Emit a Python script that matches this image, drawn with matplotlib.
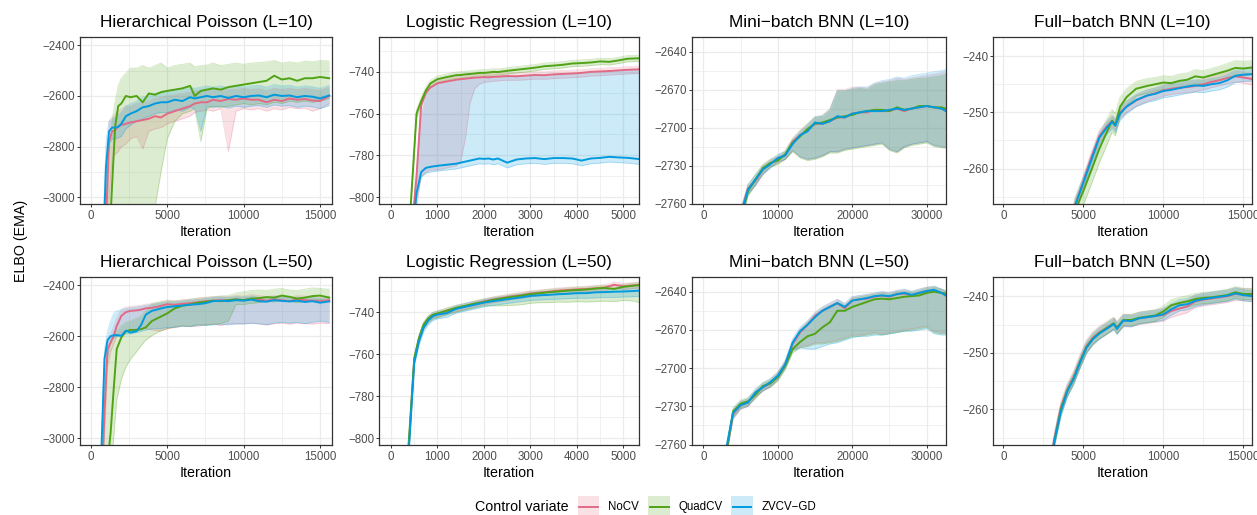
import matplotlib
matplotlib.use("Agg")
import matplotlib.pyplot as plt
from matplotlib.patches import Rectangle
from matplotlib.lines import Line2D
from matplotlib.ticker import MultipleLocator, FuncFormatter

plt.rcParams['font.family'] = ['Liberation Sans', 'DejaVu Sans']

# ---------------------------------------------------------------- data
methods = ["NoCV", "QuadCV", "ZVCV\u2212GD"]
colors = ["#E16A86", "#50A315", "#009ADE"]

# Hierarchical Poisson (L=10)
hp10_x = [700, 1000, 1200, 1400, 1600, 1800, 2000, 2300, 2600, 3000, 3400, 3800, 4200, 4600, 5000, 5500, 6000,
          6500, 6800, 7200, 7600, 8000, 8500, 9000, 9500, 10000, 10500, 11000, 11500, 12000, 12500, 13000,
          13500, 14000, 14500, 15000, 15600]
hp10_nocv = [-3500, -3100, -2780, -2740, -2735, -2720, -2715, -2710, -2705, -2700, -2695, -2690, -2680, -2685,
             -2670, -2660, -2650, -2640, -2630, -2625, -2625, -2615, -2620, -2612, -2615, -2610, -2615, -2615,
             -2625, -2615, -2620, -2610, -2615, -2612, -2618, -2620, -2600]
hp10_nocv_hi = [-3400, -2950, -2700, -2680, -2670, -2660, -2650, -2640, -2640, -2630, -2625, -2620, -2610, -2605,
                -2600, -2595, -2590, -2585, -2580, -2580, -2575, -2575, -2580, -2575, -2575, -2570, -2575, -2572,
                -2580, -2570, -2575, -2570, -2575, -2570, -2575, -2578, -2565]
hp10_nocv_lo = [-3600, -3400, -3000, -2850, -2830, -2820, -2800, -2790, -2770, -2760, -2810, -2740, -2730, -2725,
                -2710, -2700, -2690, -2680, -2665, -2660, -2655, -2660, -2650, -2820, -2660, -2650, -2655, -2650,
                -2660, -2650, -2655, -2645, -2650, -2648, -2660, -2650, -2630]
hp10_quad = [-3600, -3400, -3200, -2950, -2720, -2640, -2630, -2600, -2605, -2600, -2625, -2590, -2595, -2585,
             -2580, -2575, -2570, -2560, -2600, -2580, -2575, -2570, -2575, -2565, -2560, -2555, -2550, -2545,
             -2540, -2520, -2535, -2530, -2540, -2530, -2530, -2525, -2530]
hp10_quad_hi = [-3400, -3200, -2900, -2700, -2620, -2560, -2530, -2510, -2490, -2490, -2480, -2490, -2480, -2470,
                -2490, -2480, -2475, -2470, -2485, -2480, -2478, -2470, -2480, -2475, -2470, -2475, -2470, -2468,
                -2465, -2460, -2470, -2465, -2470, -2462, -2465, -2460, -2462]
hp10_quad_lo = [-3700, -3600, -3500, -3400, -3300, -3250, -3200, -3150, -3100, -3100, -3100, -3080, -3040, -2900,
                -2770, -2700, -2670, -2660, -2650, -2780, -2650, -2640, -2645, -2640, -2635, -2630, -2635, -2630,
                -2635, -2625, -2630, -2620, -2625, -2620, -2625, -2620, -2610]
hp10_zv = [-3400, -2880, -2740, -2725, -2725, -2722, -2710, -2680, -2670, -2660, -2645, -2640, -2630, -2625,
           -2625, -2615, -2620, -2605, -2610, -2605, -2600, -2605, -2600, -2608, -2600, -2605, -2600, -2598,
           -2605, -2595, -2600, -2598, -2605, -2600, -2603, -2610, -2598]
hp10_zv_hi = [-3300, -2780, -2700, -2690, -2685, -2675, -2665, -2640, -2630, -2620, -2605, -2600, -2590, -2585,
              -2580, -2575, -2575, -2565, -2570, -2565, -2560, -2565, -2560, -2568, -2560, -2565, -2560, -2558,
              -2565, -2555, -2560, -2558, -2565, -2560, -2563, -2570, -2558]
hp10_zv_lo = [-3500, -3050, -2790, -2770, -2770, -2765, -2760, -2730, -2715, -2700, -2690, -2680, -2670, -2665,
              -2665, -2655, -2660, -2645, -2650, -2740, -2640, -2645, -2640, -2648, -2640, -2645, -2640, -2638,
              -2645, -2635, -2640, -2638, -2645, -2640, -2643, -2650, -2638]

# Logistic Regression (L=10)
lr10_x = [350, 450, 550, 650, 750, 850, 1000, 1200, 1400, 1500, 1600, 1700, 1800, 1900, 2000, 2100, 2200, 2300,
          2500, 2700, 2900, 3100, 3300, 3500, 3700, 3900, 4100, 4300, 4500, 4700, 4900, 5100, 5345]
lr10_nocv = [-840, -815, -790, -756, -750, -747.5, -745.5, -744.6, -743.8, -743.5, -743.3, -743.0, -742.8, -742.7,
             -742.5, -742.6, -742.4, -742.3, -742.0, -742.1, -741.8, -741.5, -741.6, -741.2, -741.0, -740.8,
             -740.5, -740.0, -739.8, -739.6, -739.3, -739.0, -738.8]
lr10_nocv_hi = [-838.5, -813.5, -788, -754, -748.3, -746, -744, -743, -742.3, -742, -741.8, -741.5, -741.3, -741.2,
                -741, -741, -740.9, -740.8, -740.5, -740.5, -740.3, -740, -740, -739.6, -739.4, -739.2, -738.9,
                -738.5, -738.3, -738, -737.8, -737.5, -737.3]
lr10_nocv_lo = [-845, -830, -805, -790, -788, -787, -787, -786, -785, -783, -772, -755, -748, -746, -745, -744.8,
                -744.5, -744.3, -744, -744, -743.8, -743.5, -743.5, -743.2, -743, -742.8, -742.5, -742, -741.8,
                -741.5, -741.3, -741, -740.8]
lr10_quad = [-830, -795, -760, -754, -749, -745.5, -743.5, -742.5, -741.6, -741.5, -741.2, -741.0, -740.8, -740.5,
             -740.5, -740.3, -740.0, -740.1, -739.5, -739.0, -738.5, -738.0, -737.3, -737.0, -736.6, -736.0,
             -735.8, -735.5, -735.0, -735.2, -734.5, -733.7, -733.5]
lr10_quad_hi = [-828.5, -793.5, -758, -752, -747.3, -744, -742, -741, -740.1, -740, -739.7, -739.5, -739.3, -739,
                -739, -738.8, -738.5, -738.6, -738, -737.5, -737, -736.5, -735.8, -735.5, -735.1, -734.5, -734.3,
                -734, -733.5, -733.7, -733, -732.2, -732]
lr10_quad_lo = [-831.5, -796.5, -762, -756, -750.7, -747, -745, -744, -743.1, -743, -742.7, -742.5, -742.3, -742,
                -742, -741.8, -741.5, -741.6, -741, -740.5, -740, -739.5, -738.8, -738.5, -738.1, -737.5, -737.3,
                -737, -736.5, -736.7, -736, -735.2, -735]
lr10_zv = [-840, -820, -798, -788, -786, -785.5, -785, -784.5, -784, -783.5, -783, -782.5, -782, -781.5, -781.7,
           -781.5, -782, -781.5, -783.5, -782, -781.5, -781.3, -781.8, -781.3, -781.3, -781.5, -782.5, -781.5,
           -781.2, -780.7, -781, -781.2, -781.8]
lr10_zv_hi = [-835, -815, -793, -762, -752, -748, -746, -745, -744.4, -744.1, -743.9, -743.7, -743.5, -743.4,
              -743.3, -743.1, -743, -742.9, -742.6, -742.6, -742.4, -742.1, -742.1, -741.8, -741.6, -741.3, -741,
              -740.6, -740.3, -740.1, -739.8, -739.4, -739.1]
lr10_zv_lo = [-842.5, -822.5, -800.5, -790.5, -788.5, -788, -787.5, -787, -786.5, -786, -785.5, -785, -784.5, -784,
              -784.2, -784, -784.5, -784, -786, -784.5, -784, -783.8, -784.3, -783.8, -783.8, -784, -785, -784,
              -783.7, -783.2, -783.5, -783.7, -784.3]

# Mini-batch BNN (L=10)
mb10_x = [4000, 5000, 6000, 7000, 8000, 9000, 10000, 11000, 12000, 13000, 14000, 15000, 16000, 17000, 18000,
          19000, 20000, 21000, 22000, 23000, 24000, 25000, 26000, 27000, 28000, 29000, 30000, 31000, 32000, 32560]
mb10_nocv = [-2790, -2768, -2748, -2742, -2733, -2728, -2725, -2722, -2711, -2706, -2702, -2697, -2697, -2695,
             -2692, -2692, -2689, -2688, -2688, -2686, -2687, -2687, -2685, -2687, -2685, -2684, -2683, -2684,
             -2685, -2686]
mb10_nocv_hi = [-2786, -2764, -2745, -2738, -2730, -2725, -2722, -2719, -2708, -2702, -2697, -2692, -2690, -2685,
                -2670, -2670, -2668, -2668, -2669, -2665, -2664, -2663, -2661, -2662, -2661, -2660, -2659, -2658,
                -2657, -2656]
mb10_nocv_lo = [-2795, -2773, -2752, -2746, -2737, -2731, -2728, -2725, -2718, -2723, -2725, -2724, -2722, -2719,
                -2719, -2717, -2716, -2715, -2714, -2713, -2712, -2717, -2719, -2715, -2713, -2712, -2711, -2714,
                -2715, -2715]
mb10_quad = [-2795, -2772, -2750, -2741, -2732, -2728, -2726, -2721, -2712, -2707, -2701, -2697, -2696, -2694,
             -2692, -2691, -2690, -2688, -2687, -2686, -2686, -2687, -2684, -2686, -2685, -2683, -2683, -2684,
             -2684, -2685]
mb10_quad_hi = [-2790, -2767, -2746, -2737, -2729, -2725, -2723, -2718, -2709, -2703, -2697, -2692, -2691, -2686,
                -2671, -2671, -2670, -2669, -2670, -2666, -2665, -2664, -2663, -2663, -2662, -2661, -2661, -2660,
                -2659, -2658]
mb10_quad_lo = [-2800, -2777, -2754, -2745, -2736, -2731, -2729, -2725, -2719, -2724, -2726, -2725, -2723, -2720,
                -2720, -2718, -2717, -2716, -2715, -2714, -2713, -2718, -2720, -2716, -2714, -2713, -2712, -2715,
                -2716, -2716]
mb10_zv = [-2792, -2770, -2749, -2741, -2733, -2729, -2724, -2722, -2713, -2706, -2703, -2696, -2697, -2695,
           -2691, -2692, -2689, -2688, -2687, -2687, -2687, -2686, -2685, -2686, -2685, -2684, -2683, -2684,
           -2685, -2687]
mb10_zv_hi = [-2788, -2765, -2745, -2737, -2730, -2726, -2721, -2719, -2710, -2703, -2698, -2691, -2691, -2686,
              -2671, -2671, -2669, -2668, -2668, -2665, -2663, -2662, -2660, -2661, -2659, -2658, -2657, -2656,
              -2655, -2654]
mb10_zv_lo = [-2797, -2775, -2753, -2745, -2737, -2732, -2727, -2725, -2718, -2723, -2725, -2724, -2722, -2719,
              -2719, -2717, -2716, -2715, -2714, -2713, -2712, -2717, -2719, -2715, -2713, -2712, -2711, -2714,
              -2715, -2716]

# Full-batch BNN (L=10)
fb10_x = [4000, 4500, 5000, 5500, 6000, 6500, 6800, 7000, 7300, 7700, 8300, 9000, 9500, 10000, 10500, 11000,
          11500, 12000, 12500, 13000, 13500, 14000, 14500, 15000, 15600]
fb10_nocv = [-272, -266.3, -262.3, -258, -254.2, -252.4, -251.5, -252.2, -250, -249, -247.9, -247, -246.6, -246.1,
             -245.8, -245.6, -245.5, -245.3, -245, -244.6, -244.3, -243.9, -243.6, -243.8, -244.1]
fb10_nocv_hi = [-271, -265.3, -261.3, -257, -253.2, -251.4, -250.5, -251.2, -249, -248, -246.9, -246, -245.6,
                -245.1, -244.8, -244.6, -244.5, -244.3, -244, -243.6, -243.3, -242.9, -242.6, -242.8, -243.1]
fb10_nocv_lo = [-273, -267.3, -263.3, -259, -255.2, -253.4, -252.5, -253.2, -251, -250, -248.9, -248, -247.6,
                -247.1, -246.8, -246.6, -246.5, -246.3, -246, -245.6, -245.3, -244.9, -244.6, -244.8, -245.1]
fb10_quad = [-273, -267.5, -264, -260.3, -256.5, -253.3, -251.5, -252.2, -249, -247.3, -245.8, -245.3, -245,
             -244.7, -244.8, -244.4, -244.2, -243.6, -243.8, -243.4, -243, -242.6, -242.1, -242.2, -242]
fb10_quad_hi = [-270.5, -265, -261.5, -257.8, -254, -251, -249.5, -250.2, -247.3, -245.8, -244.5, -244, -243.8,
                -243.5, -243.6, -243.2, -243, -242.4, -242.6, -242.2, -241.8, -241.3, -240.8, -240.9, -240.8]
fb10_quad_lo = [-275.5, -270, -266.5, -262.8, -259, -255.6, -253.5, -254.2, -250.7, -248.8, -247.1, -246.6,
                -246.2, -245.9, -246, -245.6, -245.4, -244.8, -245, -244.6, -244.2, -243.9, -243.4, -243.5, -243.2]
fb10_zv = [-272, -266.5, -262.5, -258.5, -254.5, -252.6, -251.7, -252.4, -250.2, -249, -247.8, -247, -246.7,
           -246.2, -246, -245.7, -245.4, -245.2, -245.3, -245, -244.8, -244.3, -243.5, -243.3, -243.2]
fb10_zv_hi = [-271, -265.5, -261.5, -257.5, -253.5, -251.6, -250.7, -251.4, -249.2, -248, -246.8, -246, -245.7,
              -245.2, -245, -244.7, -244.4, -244.2, -244.3, -244, -243.8, -243.3, -242.5, -242.3, -242.2]
fb10_zv_lo = [-273.2, -267.7, -263.7, -259.7, -255.7, -253.8, -252.9, -253.6, -251.4, -250.2, -249, -248.2,
              -247.9, -247.4, -247.2, -246.9, -246.6, -246.4, -246.5, -246.2, -246, -245.5, -244.7, -244.5, -244.4]

# Hierarchical Poisson (L=50)
hp50_x = [500, 700, 900, 1100, 1300, 1500, 1700, 2000, 2300, 2600, 3000, 3300, 3600, 4000, 4500, 5000, 5500,
          6000, 6500, 7000, 7500, 8000, 8500, 9000, 9500, 10000, 10500, 11000, 11500, 12000, 12500, 13000,
          13500, 14000, 14500, 15000, 15600]
hp50_nocv = [-3500, -3200, -2900, -2650, -2625, -2598, -2560, -2520, -2505, -2500, -2498, -2495, -2490, -2488,
             -2482, -2474, -2476, -2472, -2470, -2466, -2462, -2460, -2458, -2460, -2455, -2458, -2452, -2456,
             -2460, -2455, -2458, -2462, -2455, -2458, -2460, -2462, -2458]
hp50_nocv_hi = [-3450, -3100, -2800, -2610, -2590, -2565, -2530, -2495, -2485, -2482, -2480, -2478, -2474, -2472,
                -2466, -2458, -2460, -2456, -2454, -2450, -2446, -2444, -2442, -2444, -2440, -2442, -2436, -2440,
                -2444, -2440, -2442, -2446, -2440, -2442, -2444, -2446, -2442]
hp50_nocv_lo = [-3600, -3300, -3000, -2720, -2660, -2630, -2600, -2585, -2580, -2575, -2570, -2568, -2570, -2575,
                -2580, -2570, -2565, -2560, -2562, -2560, -2555, -2552, -2558, -2550, -2552, -2550, -2548, -2552,
                -2555, -2550, -2548, -2552, -2548, -2550, -2552, -2548, -2550]
hp50_quad = [-3600, -3500, -3300, -3100, -2980, -2810, -2650, -2605, -2580, -2575, -2575, -2572, -2565, -2540,
             -2525, -2510, -2490, -2480, -2475, -2468, -2465, -2460, -2462, -2458, -2455, -2458, -2452, -2450,
             -2446, -2448, -2440, -2445, -2452, -2448, -2442, -2440, -2448]
hp50_quad_hi = [-3400, -3200, -2900, -2700, -2620, -2600, -2580, -2560, -2545, -2540, -2530, -2520, -2500, -2470,
                -2465, -2460, -2462, -2458, -2455, -2450, -2448, -2445, -2442, -2440, -2430, -2425, -2420, -2418,
                -2420, -2415, -2412, -2418, -2420, -2415, -2410, -2412, -2415]
hp50_quad_lo = [-3800, -3700, -3500, -3300, -3150, -3000, -2850, -2770, -2720, -2690, -2660, -2636, -2615, -2597,
                -2580, -2570, -2562, -2558, -2560, -2555, -2555, -2552, -2550, -2540, -2475, -2475, -2470, -2468,
                -2462, -2465, -2458, -2462, -2468, -2462, -2458, -2455, -2462]
hp50_zv = [-3400, -3050, -2690, -2615, -2600, -2596, -2595, -2598, -2578, -2585, -2580, -2555, -2515, -2500,
           -2492, -2485, -2482, -2479, -2476, -2474, -2470, -2462, -2460, -2462, -2458, -2460, -2456, -2462,
           -2464, -2458, -2461, -2463, -2460, -2465, -2462, -2468, -2463]
hp50_zv_hi = [-3380, -3000, -2650, -2580, -2540, -2510, -2500, -2495, -2490, -2488, -2485, -2482, -2478, -2476,
              -2470, -2466, -2464, -2462, -2458, -2456, -2452, -2448, -2446, -2448, -2444, -2446, -2442, -2447,
              -2449, -2444, -2447, -2449, -2446, -2450, -2447, -2452, -2448]
hp50_zv_lo = [-3500, -3200, -2800, -2680, -2620, -2605, -2600, -2600, -2590, -2590, -2585, -2580, -2575, -2570,
              -2570, -2565, -2565, -2560, -2562, -2555, -2558, -2555, -2552, -2555, -2550, -2552, -2548, -2550,
              -2555, -2548, -2545, -2548, -2545, -2550, -2545, -2540, -2545]

# Logistic Regression (L=50)
lr50_x = [300, 400, 500, 600, 700, 800, 900, 1000, 1200, 1400, 1600, 1800, 2000, 2200, 2400, 2600, 2800, 3000,
          3200, 3400, 3600, 3800, 4000, 4200, 4400, 4600, 4800, 5000, 5200, 5345]
lr50_nocv = [-830, -798, -763, -753, -746.5, -743.2, -741.5, -740.8, -739.5, -738.3, -737.3, -736, -735, -734,
             -733.3, -732.5, -732, -731.2, -730.8, -730.3, -729.8, -729.5, -729.2, -729, -728.7, -728.3, -727,
             -727.7, -727.3, -727]
lr50_nocv_hi = [-828.7, -796.7, -761.7, -751.7, -745.2, -741.9, -740.2, -739.5, -738.2, -737, -736, -734.7,
                -733.7, -732.7, -732, -731.2, -730.7, -729.9, -729.5, -729, -728.5, -728.2, -727.9, -727.7,
                -727.4, -727, -725.7, -726.4, -726, -725.7]
lr50_nocv_lo = [-831.5, -799.5, -764.5, -754.5, -748, -744.7, -743, -742.3, -741, -739.8, -738.8, -737.5, -736.5,
                -735.5, -734.8, -734, -733.5, -732.7, -732.3, -731.8, -731.3, -731, -730.7, -730.5, -730.2,
                -729.8, -728.5, -729.2, -728.8, -728.5]
lr50_quad = [-828, -796, -762, -752.5, -746, -743, -741.3, -740.7, -739.3, -738, -737, -736, -735.2, -734.2,
             -733.5, -732.8, -732.2, -731.5, -731, -730.5, -730.2, -729.8, -729.5, -729.3, -728.8, -728.5, -729,
             -728, -727.5, -727.2]
lr50_quad_hi = [-826.7, -794.7, -760.7, -751.2, -744.7, -741.7, -740, -739.4, -738, -736.7, -735.7, -734.7,
                -733.9, -732.9, -732.2, -731.5, -730.9, -730.2, -729.7, -729.2, -728.9, -728.5, -728.2, -728,
                -727.5, -727.2, -727.7, -726.7, -726.2, -725.9]
lr50_quad_lo = [-830, -798, -764, -754.5, -748, -745, -743.3, -742.7, -741.3, -740, -739, -738, -737, -737, -737,
                -736.8, -736.5, -735.8, -735.5, -735.5, -735.2, -735.3, -735, -735.2, -735, -734.8, -735, -734.5,
                -734.7, -735.5]
lr50_zv = [-832, -800, -764, -754, -747.5, -744, -742, -741.2, -740.5, -738.5, -737.5, -736.5, -735.5, -734.8,
           -734.2, -733.6, -733, -732.3, -732, -731.8, -731.5, -731.3, -731, -731, -730.6, -730.5, -730.3, -730.2,
           -730, -729.8]
lr50_zv_hi = [-830.5, -798.5, -762.5, -752.5, -746, -742.5, -740.5, -739.7, -739, -737, -736, -735, -734, -733.3,
              -732.7, -732.1, -731.5, -730.8, -730.5, -730.3, -730, -729.8, -729.5, -729.5, -729.1, -729, -728.8,
              -728.7, -728.5, -728.3]
lr50_zv_lo = [-834, -802, -766, -756, -749.5, -746, -744, -743.2, -742.5, -740.5, -739.5, -738.5, -737.5, -736.8,
              -736.2, -735.6, -735, -734.5, -734.2, -734, -733.8, -733.6, -733.4, -733.4, -733.2, -733, -733,
              -732.8, -732.7, -732.5]

# Mini-batch BNN (L=50)
mb50_x = [2000, 3000, 4000, 5000, 6000, 7000, 8000, 9000, 10000, 11000, 12000, 13000, 14000, 15000, 16000,
          17000, 18000, 19000, 20000, 21000, 22000, 23000, 24000, 25000, 26000, 27000, 28000, 29000, 30000,
          31000, 32000, 32560]
mb50_nocv = [-2800, -2768, -2736, -2729, -2727, -2720, -2715, -2712, -2706, -2697, -2681, -2672, -2666, -2659,
             -2655, -2652, -2649, -2653, -2647, -2646, -2645.5, -2644, -2643, -2644, -2642, -2641.5, -2643, -2641,
             -2639.5, -2639, -2641, -2642.5]
mb50_nocv_hi = [-2795, -2764, -2733, -2726, -2724, -2717, -2712, -2709, -2703, -2694, -2678, -2669, -2663, -2656,
                -2652, -2649, -2646, -2650, -2644, -2643, -2642.5, -2641, -2640, -2641, -2639, -2638.5, -2640,
                -2638, -2636.5, -2636, -2638, -2639.5]
mb50_nocv_lo = [-2805, -2772, -2740, -2732, -2730, -2723, -2718, -2715, -2709, -2700, -2686, -2683, -2682, -2680,
                -2680, -2679, -2678, -2676, -2674, -2674, -2673, -2672, -2673, -2672, -2671, -2670, -2669, -2668,
                -2667, -2671, -2672, -2672]
mb50_quad = [-2802, -2770, -2734, -2728, -2726, -2721, -2714, -2712, -2707, -2698, -2685, -2679.5, -2675, -2673,
             -2668, -2664, -2655, -2655, -2652, -2650, -2648, -2646, -2645.5, -2646, -2645, -2644, -2643.5, -2643,
             -2641, -2640, -2641, -2641.5]
mb50_quad_hi = [-2797, -2766, -2731, -2725, -2723, -2718, -2711, -2709, -2704, -2695, -2680, -2670, -2664, -2658,
                -2654, -2651, -2648, -2651, -2645, -2644, -2643, -2642, -2641, -2642, -2640, -2639.5, -2640.5,
                -2639, -2637, -2636.5, -2638, -2639]
mb50_quad_lo = [-2806, -2774, -2738, -2731, -2729, -2724, -2717, -2715, -2710, -2701, -2688, -2684, -2683, -2681,
                -2681, -2680, -2679, -2677, -2675, -2675, -2674, -2673, -2674, -2673, -2672, -2671, -2670, -2669,
                -2668, -2672, -2673, -2673]
mb50_zv = [-2798, -2766, -2735, -2729, -2727, -2719, -2715, -2711, -2706, -2697, -2680, -2671, -2666, -2660,
           -2655, -2652, -2649, -2652, -2647, -2646, -2645, -2643.5, -2643, -2643.5, -2642, -2641, -2642.5, -2641,
           -2639.5, -2638.5, -2641, -2643]
mb50_zv_hi = [-2793, -2762, -2732, -2726, -2724, -2716, -2712, -2708, -2703, -2694, -2677, -2668, -2663, -2657,
              -2652, -2649, -2646, -2649, -2644, -2643, -2642, -2641, -2640, -2640.5, -2639, -2638, -2639.5, -2638,
              -2636.5, -2635.5, -2638, -2640]
mb50_zv_lo = [-2803, -2771, -2739, -2732, -2730, -2722, -2718, -2714, -2709, -2700, -2686, -2684, -2685, -2685,
              -2683, -2681, -2680, -2678, -2676, -2675, -2675, -2674, -2674, -2673, -2672, -2671, -2671, -2670,
              -2669, -2673, -2674, -2674]

# Full-batch BNN (L=50)
fb50_x = [2800, 3200, 3600, 4000, 4400, 4800, 5200, 5600, 6000, 6500, 6900, 7100, 7500, 8000, 8500, 9000, 9500,
          10000, 10500, 11000, 11500, 12000, 12500, 13000, 13500, 14000, 14500, 15000, 15600]
fb50_nocv = [-271.5, -265, -259.6, -256.5, -254.2, -251.4, -248.8, -247.3, -246.4, -245.5, -244.8, -245.5, -244.3,
             -244.3, -243.9, -243.7, -243.5, -243.3, -242.6, -242.2, -241.8, -240.9, -240.6, -240.4, -240.2, -240,
             -239.6, -239.7, -239.8]
fb50_nocv_hi = [-270.4, -263.9, -258.5, -255.4, -253.1, -250.3, -247.7, -246.2, -245.3, -244.4, -243.7, -244.4,
                -243.2, -243.2, -242.8, -242.6, -242.4, -242.2, -241.5, -241.1, -240.7, -239.8, -239.5, -239.3,
                -239.1, -238.9, -238.5, -238.6, -238.7]
fb50_nocv_lo = [-272.6, -266.1, -260.7, -257.6, -255.3, -252.5, -249.9, -248.4, -247.5, -246.6, -245.9, -246.6,
                -245.4, -245.4, -245, -244.8, -244.6, -244.4, -243.7, -243.3, -242.9, -242, -241.7, -241.5, -241.3,
                -241.1, -240.7, -240.8, -240.9]
fb50_quad = [-272, -265.5, -260, -256.7, -254.5, -251.6, -249, -247.5, -246.5, -245.6, -244.8, -245.6, -244.2,
             -244.2, -243.8, -243.6, -243.4, -242.7, -241.6, -241.2, -240.9, -240.5, -240.3, -240.2, -240, -239.8,
             -239.3, -239.6, -239.6]
fb50_quad_hi = [-271, -264.5, -259, -255.7, -253.5, -250.6, -248, -246.5, -245.5, -244.6, -243.8, -244.6, -243.2,
                -243.2, -242.8, -242.6, -242.4, -241.7, -240.6, -240.2, -239.9, -239.5, -239.3, -239.2, -239,
                -238.8, -238.3, -238.6, -238.6]
fb50_quad_lo = [-273, -266.5, -261, -257.7, -255.5, -252.6, -250, -248.5, -247.5, -246.6, -245.8, -246.6, -245.2,
                -245.2, -244.8, -244.6, -244.4, -243.7, -242.6, -242.2, -241.9, -241.5, -241.3, -241.2, -241,
                -240.8, -240.3, -240.6, -240.6]
fb50_zv = [-272, -265.5, -260.3, -256.8, -254.6, -251.7, -249.1, -247.6, -246.6, -245.7, -244.9, -245.8, -244.3,
           -244.4, -243.9, -243.7, -243.5, -243.2, -242.3, -241.6, -241.4, -240.8, -240.5, -240.3, -240.1, -239.9,
           -239.5, -239.8, -240]
fb50_zv_hi = [-271, -264.5, -259.3, -255.8, -253.6, -250.7, -248.1, -246.6, -245.6, -244.7, -243.9, -244.8,
              -243.3, -243.4, -242.9, -242.7, -242.5, -242.2, -241.3, -240.6, -240.4, -239.8, -239.5, -239.3,
              -239.1, -238.9, -238.5, -238.8, -239]
fb50_zv_lo = [-273, -266.5, -261.3, -257.8, -255.6, -252.7, -250.1, -248.6, -247.6, -246.7, -245.9, -246.8,
              -245.3, -245.4, -244.9, -244.7, -244.5, -244.2, -243.3, -242.6, -242.4, -241.8, -241.5, -241.3,
              -241.1, -240.9, -240.5, -240.8, -241]

# ---------------------------------------------------------------- layout
W, H = 1257, 515
fig = plt.figure(figsize=(W / 100, H / 100), dpi=100)


def fx(px):
    return px / W


def fy(py):
    return 1 - py / H


col_px = [(80, 332), (379, 639), (692, 946), (993, 1252)]
row_px = [(37, 204), (277, 445)]

# per column: x limits, x major step, y limits, y major step
col_scale = [
    dict(xlim=(-700, 15780), xstep=5000, ylim=(-3027, -2367), ystep=200),
    dict(xlim=(-258, 5337), xstep=1000, ylim=(-803.3, -723.3), ystep=20),
    dict(xlim=(-1520, 32600), xstep=10000, ylim=(-2760.3, -2628.5), ystep=30),
    dict(xlim=(-646, 15544), xstep=5000, ylim=(-266.3, -236.6), ystep=10),
]

panels = [
    ("Hierarchical Poisson (L=10)", hp10_x,
     [(hp10_nocv, hp10_nocv_lo, hp10_nocv_hi), (hp10_quad, hp10_quad_lo, hp10_quad_hi),
      (hp10_zv, hp10_zv_lo, hp10_zv_hi)]),
    ("Logistic Regression (L=10)", lr10_x,
     [(lr10_nocv, lr10_nocv_lo, lr10_nocv_hi), (lr10_quad, lr10_quad_lo, lr10_quad_hi),
      (lr10_zv, lr10_zv_lo, lr10_zv_hi)]),
    ("Mini\u2212batch BNN (L=10)", mb10_x,
     [(mb10_nocv, mb10_nocv_lo, mb10_nocv_hi), (mb10_quad, mb10_quad_lo, mb10_quad_hi),
      (mb10_zv, mb10_zv_lo, mb10_zv_hi)]),
    ("Full\u2212batch BNN (L=10)", fb10_x,
     [(fb10_nocv, fb10_nocv_lo, fb10_nocv_hi), (fb10_quad, fb10_quad_lo, fb10_quad_hi),
      (fb10_zv, fb10_zv_lo, fb10_zv_hi)]),
    ("Hierarchical Poisson (L=50)", hp50_x,
     [(hp50_nocv, hp50_nocv_lo, hp50_nocv_hi), (hp50_quad, hp50_quad_lo, hp50_quad_hi),
      (hp50_zv, hp50_zv_lo, hp50_zv_hi)]),
    ("Logistic Regression (L=50)", lr50_x,
     [(lr50_nocv, lr50_nocv_lo, lr50_nocv_hi), (lr50_quad, lr50_quad_lo, lr50_quad_hi),
      (lr50_zv, lr50_zv_lo, lr50_zv_hi)]),
    ("Mini\u2212batch BNN (L=50)", mb50_x,
     [(mb50_nocv, mb50_nocv_lo, mb50_nocv_hi), (mb50_quad, mb50_quad_lo, mb50_quad_hi),
      (mb50_zv, mb50_zv_lo, mb50_zv_hi)]),
    ("Full\u2212batch BNN (L=50)", fb50_x,
     [(fb50_nocv, fb50_nocv_lo, fb50_nocv_hi), (fb50_quad, fb50_quad_lo, fb50_quad_hi),
      (fb50_zv, fb50_zv_lo, fb50_zv_hi)]),
]

tick_fmt = FuncFormatter(lambda v, pos: f"{v:.0f}".replace("-", "\u2212"))
TICK_FS, AXIS_FS, TITLE_FS, LEG_FS = 8.3, 10.3, 12.4, 8.3
DARK, TICKTXT, GRID = "#333333", "#4D4D4D", "#EBEBEB"

for k, (title, x, series) in enumerate(panels):
    row, col = divmod(k, 4)
    l, r = col_px[col]
    t, b = row_px[row]
    sc = col_scale[col]
    ax = fig.add_axes([fx(l), fy(b), (r - l) / W, (b - t) / H])
    ax.set_xlim(*sc["xlim"])
    ax.set_ylim(*sc["ylim"])
    ax.xaxis.set_major_locator(MultipleLocator(sc["xstep"]))
    ax.xaxis.set_minor_locator(MultipleLocator(sc["xstep"] / 2))
    ax.yaxis.set_major_locator(MultipleLocator(sc["ystep"]))
    ax.yaxis.set_minor_locator(MultipleLocator(sc["ystep"] / 2))
    ax.xaxis.set_major_formatter(tick_fmt)
    ax.yaxis.set_major_formatter(tick_fmt)
    ax.set_axisbelow(True)
    ax.grid(which="major", color=GRID, lw=0.9)
    ax.grid(which="minor", color=GRID, lw=0.5)
    for s in ax.spines.values():
        s.set_color(DARK)
        s.set_linewidth(0.9)
    ax.tick_params(which="major", length=2.2, width=0.7, color=DARK, labelsize=TICK_FS,
                   labelcolor=TICKTXT)
    ax.tick_params(axis="y", pad=1.2)
    ax.tick_params(axis="x", pad=2.2)
    ax.tick_params(which="minor", length=0)

    # uncertainty ribbons first, mean curves on top
    for (mean, lo, hi), c in zip(series, colors):
        ax.fill_between(x, lo, hi, color=c, alpha=0.2, lw=0)
        ax.plot(x, lo, color=c, alpha=0.25, lw=0.6)
        ax.plot(x, hi, color=c, alpha=0.25, lw=0.6)
    for (mean, lo, hi), c in zip(series, colors):
        ax.plot(x, mean, color=c, lw=1.4, solid_joinstyle="round")

    ax.set_title(title, fontsize=TITLE_FS, pad=7.5)
    ax.set_xlabel("Iteration", fontsize=AXIS_FS, labelpad=2.0)

fig.text(fx(21), fy(241), "ELBO (EMA)", rotation=90, ha="center", va="center", fontsize=AXIS_FS)

# ---------------------------------------------------------------- legend
leg_y = 506.7
fig.text(fx(475), fy(leg_y), "Control variate", fontsize=AXIS_FS, ha="left", va="center")
key_left = [577.7, 648.3, 731.0]
label_left = [608.3, 678.3, 761.7]
for name, c, kx, lx in zip(methods, colors, key_left, label_left):
    fig.add_artist(Rectangle((fx(kx), fy(516)), 21.7 / W, 20 / H, transform=fig.transFigure,
                             facecolor=c, alpha=0.2, edgecolor="none"))
    fig.add_artist(Line2D([fx(kx + 1.5), fx(kx + 20.2)], [fy(leg_y), fy(leg_y)], color=c, lw=1.4,
                          transform=fig.transFigure))
    fig.text(fx(lx), fy(leg_y), name, fontsize=LEG_FS, ha="left", va="center")

fig.savefig("out.png", dpi=100)
